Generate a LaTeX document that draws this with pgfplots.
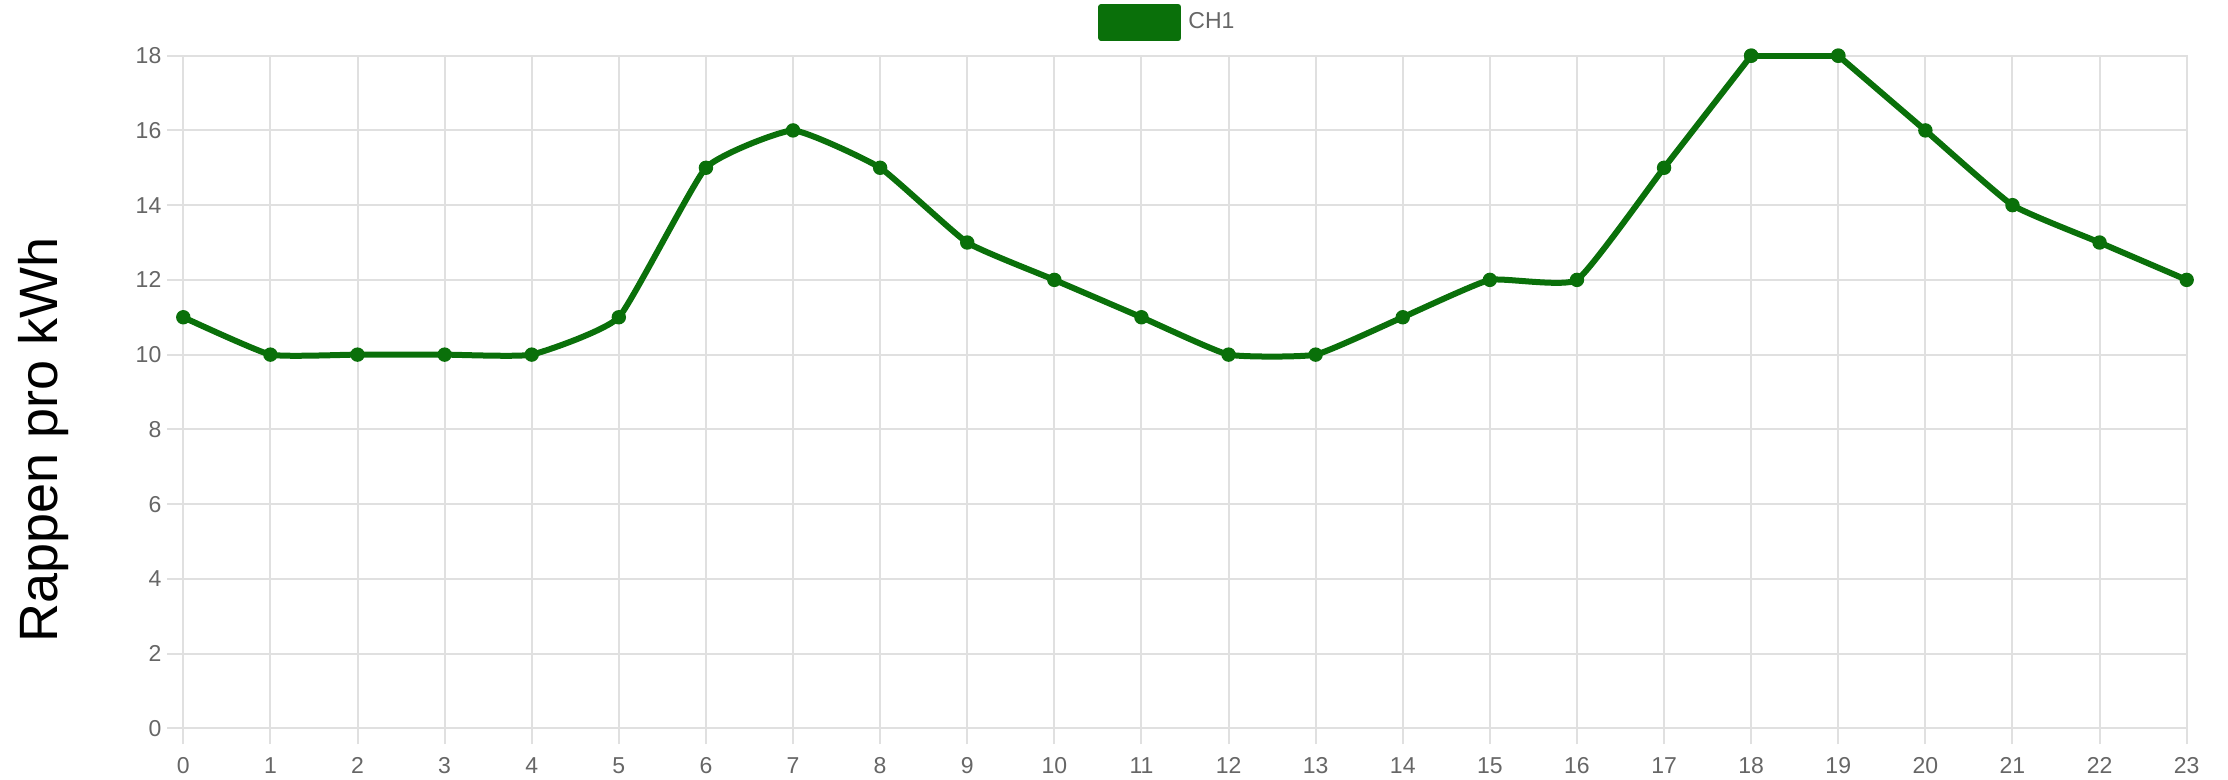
\documentclass[border=0pt]{standalone}
\usepackage{fontspec}
\setmainfont{Liberation Sans}
\usepackage{pgfplots}
\pgfplotsset{compat=1.18}
\definecolor{chgreen}{RGB}{10,112,10}
\definecolor{gridgray}{RGB}{224,224,224}
\definecolor{ticktext}{RGB}{102,102,102}
\tikzset{chline/.style={chgreen, line width=3pt, line join=round, line cap=round, mark=*, mark size=3.1pt, mark options={fill=chgreen, draw=chgreen, line width=1pt}}}
\begin{document}
\begin{tikzpicture}
\useasboundingbox (0,0) rectangle (1114pt,390pt);
\begin{axis}[
  at={(91.65pt,25.85pt)}, anchor=south west,
  scale only axis, width=1001.7pt, height=336.3pt,
  xmin=0, xmax=23, ymin=0, ymax=18,
  xtick={0,1,...,23}, ytick={0,2,...,18},
  xtick pos=bottom, ytick pos=left,
  tick align=outside, major tick length=8pt,
  grid=major,
  grid style={gridgray, line width=1pt},
  axis line style={gridgray, line width=1pt},
  tick style={gridgray, line width=1pt},
  /pgf/number format/assume math mode=true,
  tick label style={font=\fontsize{11.5}{13}\selectfont, text=ticktext, inner sep=0pt},
  xticklabel shift=6.5pt,
  yticklabel shift=2.8pt,
  clip=false,
  ylabel={Rappen pro kWh},
  ylabel style={at={(rel axis cs:-0.0700,0.4286)}, anchor=center, inner sep=0pt, font=\fontsize{27}{30}\selectfont, text=black},
  legend style={at={(rel axis cs:0.4566,1.0494)}, anchor=west, draw=none, fill=none, inner sep=0pt, font=\fontsize{11.5}{13}\selectfont, text=ticktext, nodes={inner sep=0pt}},
  legend image code/.code={\fill[chgreen, sharp corners] (0pt,-7.75pt) rectangle (38.5pt,7.75pt); \path (42pt,0pt);},
]
\addplot[chline, smooth, tension=0.25] coordinates {
 (0,11) (1,10) (2,10) (3,10) (4,10) (5,11) (6,15) (7,16) (8,15) (9,13)
 (10,12) (11,11) (12,10) (13,10) (14,11) (15,12) (16,12) (17,15) (18,18)
};
\addlegendentry{CH1}
\addplot[chline, forget plot] coordinates { (18,18) (19,18) };
\addplot[chline, forget plot, smooth, tension=0.25] coordinates {
 (19,18) (20,16) (21,14) (22,13) (23,12)
};
\end{axis}
\end{tikzpicture}
\end{document}
